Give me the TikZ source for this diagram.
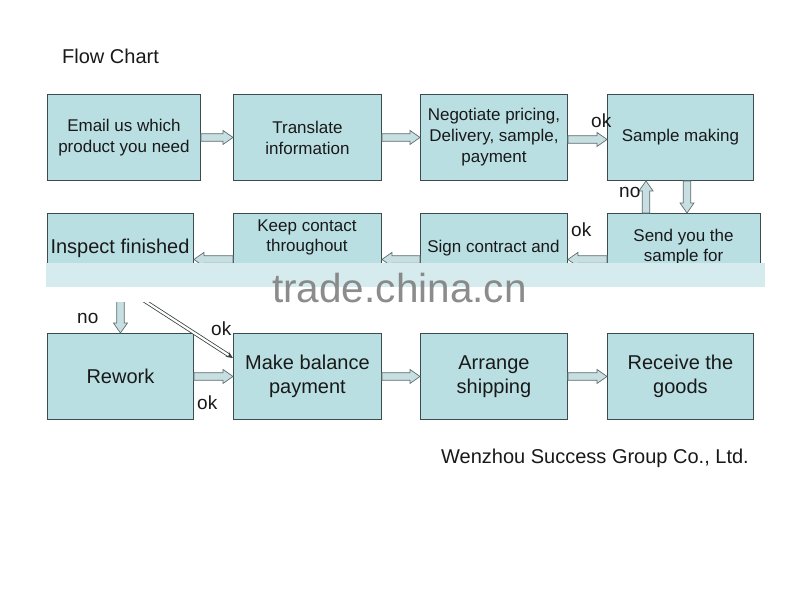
\documentclass[tikz,border=0pt]{standalone}
\usepackage{fontspec}
\setmainfont{Liberation Sans}
\usetikzlibrary{calc,arrows.meta}
\definecolor{boxfill}{RGB}{186,223,227}
\definecolor{boxline}{RGB}{60,75,78}
\definecolor{arrfill}{RGB}{200,223,226}
\definecolor{arrline}{RGB}{95,110,112}
\definecolor{txt}{RGB}{25,25,25}
\definecolor{bandcol}{RGB}{212,234,237}
\definecolor{wmgray}{RGB}{128,128,128}
\begin{document}
\begin{tikzpicture}[x=1pt,y=-1pt,
  box/.style={draw=boxline, fill=boxfill, line width=0.9pt, minimum width=#1,
    minimum height=86pt, inner sep=2pt, align=center, anchor=north west,
    text=txt, font=\fontsize{17}{21}\selectfont},
  bigtext/.style={font=\fontsize{20}{23.5}\selectfont},
  lbl/.style={anchor=base west, inner sep=0pt, text=txt, font=\fontsize{19}{22}\selectfont},
  linetext/.style={anchor=base, inner sep=0pt, text=txt, font=\fontsize{17}{20.5}\selectfont},
  barrow/.style={draw=arrline, fill=arrfill, line width=0.7pt, line join=miter,
    to path={
      ($(\tikztotarget)!10pt!(\tikztostart)$) coordinate (bah)
      ($(\tikztostart)!3.8pt!90:(\tikztotarget)$)
      -- ($(bah)!3.8pt!90:(\tikztotarget)$)
      -- ($(bah)!7pt!90:(\tikztotarget)$)
      -- (\tikztotarget)
      -- ($(bah)!7pt!-90:(\tikztotarget)$)
      -- ($(bah)!3.8pt!-90:(\tikztotarget)$)
      -- ($(\tikztostart)!3.8pt!-90:(\tikztotarget)$)
      -- cycle}},
  dline/.style={draw=arrline!60!black, double=white, double distance=2.2pt, line width=0.8pt,
    -{Stealth[length=7pt,width=6pt]}}
]
\useasboundingbox (0,0) rectangle (800,600);
\fill[white] (0,0) rectangle (800,600);

% title
\node[lbl, font=\fontsize{20}{23}\selectfont] (title) at (62,63) {Flow Chart};

% row 1
\node[box=153pt] (email) at (47,94) {Email us which\\product you need};
\node[box=148pt] (trans) at (233,94) {Translate\\information};
\node[box=147pt] (nego) at (420,94) {Negotiate pricing,\\Delivery, sample,\\payment};
\node[box=146pt] (samp) at (607,94) {Sample making};

% row 2
\node[box=146pt] (insp) at (47,213) {};
\node[box=148pt] (keep) at (233,213) {};
\node[box=147pt] (sign) at (420,213) {};
\node[box=153pt] (send) at (607,213) {};
\node[linetext, bigtext] (inspT) at (120,253) {Inspect finished};
\node[linetext] (keepT1) at (307,231) {Keep contact};
\node[linetext] (keepT2) at (307,251) {throughout};
\node[linetext] (signT) at (493.5,252) {Sign contract and};
\node[linetext] (sendT1) at (683.5,241) {Send you the};
\node[linetext] (sendT2) at (683.5,261) {sample for};

% row 3
\node[box=146pt, bigtext] (rework) at (47,333) {Rework};
\node[box=148pt, bigtext] (make) at (233,333) {Make balance\\payment};
\node[box=147pt, bigtext] (ship) at (420,333) {Arrange\\shipping};
\node[box=146pt, bigtext] (recv) at (607,333) {Receive the\\goods};

% row 1 arrows
\draw[barrow] (email.east) to (trans.west);
\draw[barrow] (trans.east) to (nego.west);
\draw[barrow] ([yshift=-2pt]nego.east) to ([yshift=-2pt]samp.west);

% sample loop
\coordinate (xup) at (646,0);
\coordinate (xdn) at (687,0);
\draw[barrow] (send.north -| xup) to (samp.south -| xup);
\draw[barrow] (samp.south -| xdn) to (send.north -| xdn);

% row 2 arrows
\draw[barrow] ([yshift=-3pt]send.west) to ([yshift=-3pt]sign.east);
\draw[barrow] ([yshift=-3pt]sign.west) to ([yshift=-3pt]keep.east);
\draw[barrow] ([yshift=-3pt]keep.west) to ([yshift=-3pt]insp.east);

% inspect outcomes
\draw[barrow] (insp.south) to (rework.north);
\coordinate (dstart) at ($(insp.south west)+(96,0)$);
\coordinate (dend) at ($(make.north west)+(0,25)$);
\draw[dline] (dstart) -- (dend);

% row 3 arrows
\draw[barrow] (rework.east) to (make.west);
\draw[barrow] (make.east) to (ship.west);
\draw[barrow] (ship.east) to (recv.west);

% labels
\node[lbl] (ok1) at (591,127) {ok};
\node[lbl] (no1) at (619,197) {no};
\node[lbl] (ok2) at (571,236) {ok};
\node[lbl] (no2) at (77,323) {no};
\node[lbl] (ok3) at (211,335) {ok};
\node[lbl] (ok4) at (197,409) {ok};

% footer
\node[lbl, font=\fontsize{20}{24}\selectfont] (foot) at (441,463) {Wenzhou Success Group Co., Ltd.};

% watermark band
\fill[white] (40,263) rectangle (775,302);
\fill[bandcol, opacity=0.95] (46,263) rectangle (765,287);
\node[anchor=base west, inner sep=0pt, text=wmgray, opacity=0.9,
  font=\fontsize{40.5}{45}\selectfont] (wm) at (272,302) {trade.china.cn};
\end{tikzpicture}
\end{document}
